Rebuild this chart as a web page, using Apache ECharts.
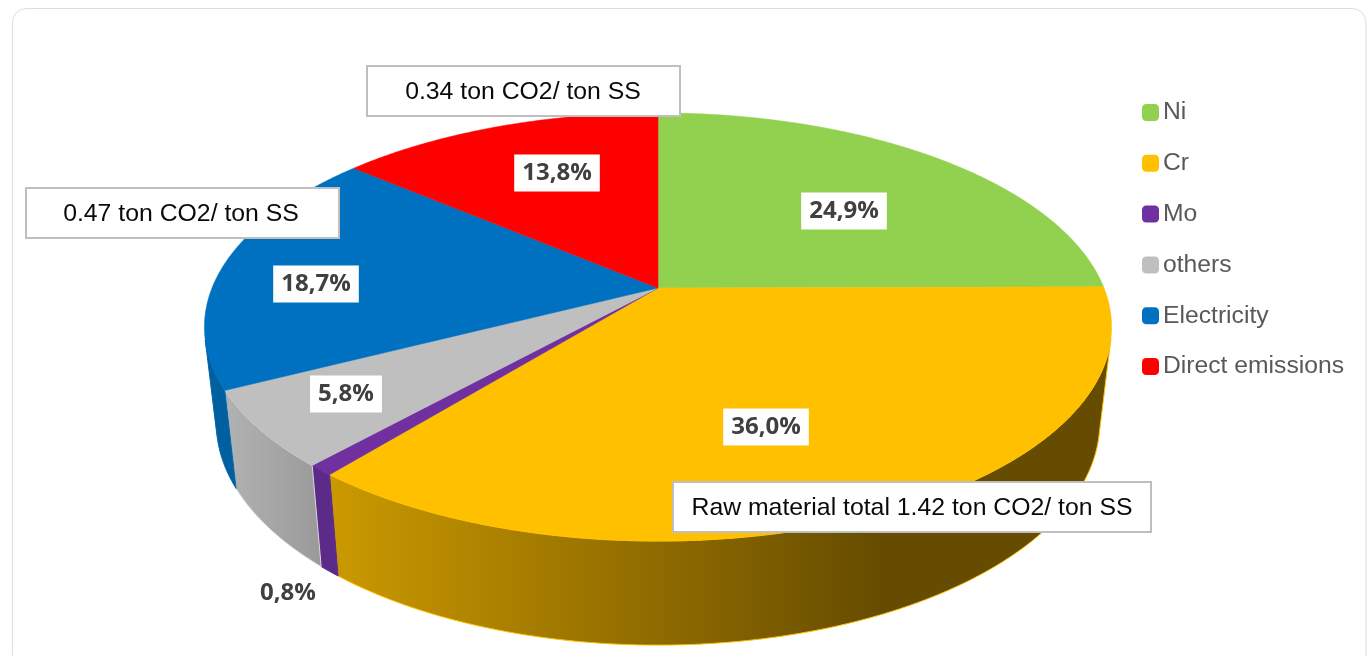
<!DOCTYPE html>
<html><head><meta charset="utf-8">
<style>html,body{margin:0;padding:0;background:#fff}#c{width:1371px;height:656px}</style>
<script src="https://cdn.jsdelivr.net/npm/echarts@6/dist/echarts.min.js"></script>
</head><body><div id="c"></div>
<script>
var categories = ['Ni','Cr','Mo','others','Electricity','Direct emissions'];
var shares = [24.9,36.0,0.8,5.8,18.7,13.8];
var notes = ['0.34 ton CO2/ ton SS','0.47 ton CO2/ ton SS','Raw material total 1.42 ton CO2/ ton SS'];

/* styling and layout, separate from data */
var topColors = ['#92D050','#FFC000','#7030A0','#BFBFBF','#0070C0','#FF0000'];
var wallStops = [
  ['#5f8a34','#5f8a34'],
  ['#CB9900','#664C00'],
  ['#5C2A88','#5C2A88'],
  ['#B2B2B2','#9A9A9A'],
  ['#005F9F','#005F9F'],
  ['#990000','#990000']
];
var wallEdge = ['#92D050','#FFC000','#5C2A88','#D8D8D8','#0066ad','#FF0000'];
var labelAt = [[844,211],[766,427],[288,593],[346,394],[316,284],[557,173]];
var FONT = '"Liberation Sans",Arial,sans-serif';
var LABELFONT = '"Open Sans",sans-serif';
var APEX = {x:658,y:288}, PD = 446, PA = 207, PC = -0.182;
var total = shares.reduce(function(a,b){return a+b;},0);

function rimTop(t){
  var s=Math.sin(t), dn=-Math.cos(t), den=1+PC*dn;
  return [APEX.x+PD*s/den, APEX.y+PA*dn/den];
}
function rimBottom(t){
  var p=rimTop(t);
  return [APEX.x+0.974*(p[0]-APEX.x), 1.04*p[1]+82.4];
}
function samples(a,b){
  var n=Math.max(2,Math.ceil((b-a)/0.006)),o=[];
  for(var i=0;i<=n;i++)o.push(a+(b-a)*i/n);
  return o;
}
function frontFacing(t){
  var d=1e-3,p=rimTop(t),q=rimTop(t+d),b=rimBottom(t);
  var ex=q[0]-p[0],ey=q[1]-p[1],vx=b[0]-p[0],vy=b[1]-p[1];
  return ex*vy-ey*vx<0;
}
function renderSlice(idx){
  return function(params,api){
    var before=0; for(var i=0;i<idx;i++)before+=shares[i];
    var v=api.value(0);
    var a=before/total*2*Math.PI, b=(before+v)/total*2*Math.PI;
    var ts=samples(a,b);
    var face=[[APEX.x,APEX.y]].concat(ts.map(rimTop));
    var children=[];
    var ft=ts.filter(frontFacing);
    if(ft.length>1){
      var top=ft.map(rimTop), bot=ft.map(rimBottom).reverse();
      var fill=new echarts.graphic.LinearGradient(
        idx===1?329:(idx===3?225:0),0,idx===1?880:(idx===3?320:1371),0,
        [{offset:0,color:wallStops[idx][0]},{offset:1,color:wallStops[idx][1]}],true);
      children.push({type:'polygon',z2:1,shape:{points:top.concat(bot)},
        style:{fill:fill,stroke:wallEdge[idx],lineWidth:1}});
    }
    children.push({type:'polygon',z2:10,shape:{points:face},
      style:{fill:topColors[idx],stroke:topColors[idx],lineWidth:0.5}});
    children.push({type:'text',z2:20,style:{
      text:v.toFixed(1).replace('.',',')+'%',
      x:labelAt[idx][0],y:labelAt[idx][1],align:'center',verticalAlign:'middle',
      font:'bold 24px '+LABELFONT,fill:'#404040',
      backgroundColor:'#fff',padding:[7,8,6,8]}});
    return {type:'group',children:children};
  };
}
var series=categories.map(function(name,i){
  return {type:'custom',name:name,coordinateSystem:'none',silent:true,clip:false,
    itemStyle:{color:topColors[i]},
    renderItem:renderSlice(i),data:[[shares[i]]]};
});
function note(text,x,y,w,h,tx){
  return [
    {type:'rect',z:50,shape:{x:x,y:y,width:w,height:h},style:{fill:'#fff',stroke:'#BFBFBF',lineWidth:2}},
    {type:'text',z:51,style:{text:text,x:tx,y:y+h/2+1.5,align:'center',verticalAlign:'middle',
      font:'24.8px '+FONT,fill:'#0a0a0a'}}
  ];
}
var chart=echarts.init(document.getElementById('c'),null,{renderer:'canvas'});
chart.setOption({
  animation:false,
  color:topColors,
  legend:{orient:'vertical',left:1142,top:100,padding:0,data:categories,icon:'roundRect',
    itemWidth:17,itemHeight:17,itemGap:25.8,selectedMode:false,
    textStyle:{fontFamily:FONT,fontSize:24.7,color:'#595959',padding:[0,0,0,-1],lineHeight:17,height:17}},
  graphic:[{type:'rect',z:-10,shape:{x:12.5,y:8.5,width:1353.5,height:660,r:14},
      style:{fill:'#fff',stroke:'#DDDDDD',lineWidth:1}}]
    .concat(note(notes[0],367,66,313,50,523))
    .concat(note(notes[1],26,188,313,50,181))
    .concat(note(notes[2],673,482,478,50,912)),
  series:series
});
</script></body></html>
